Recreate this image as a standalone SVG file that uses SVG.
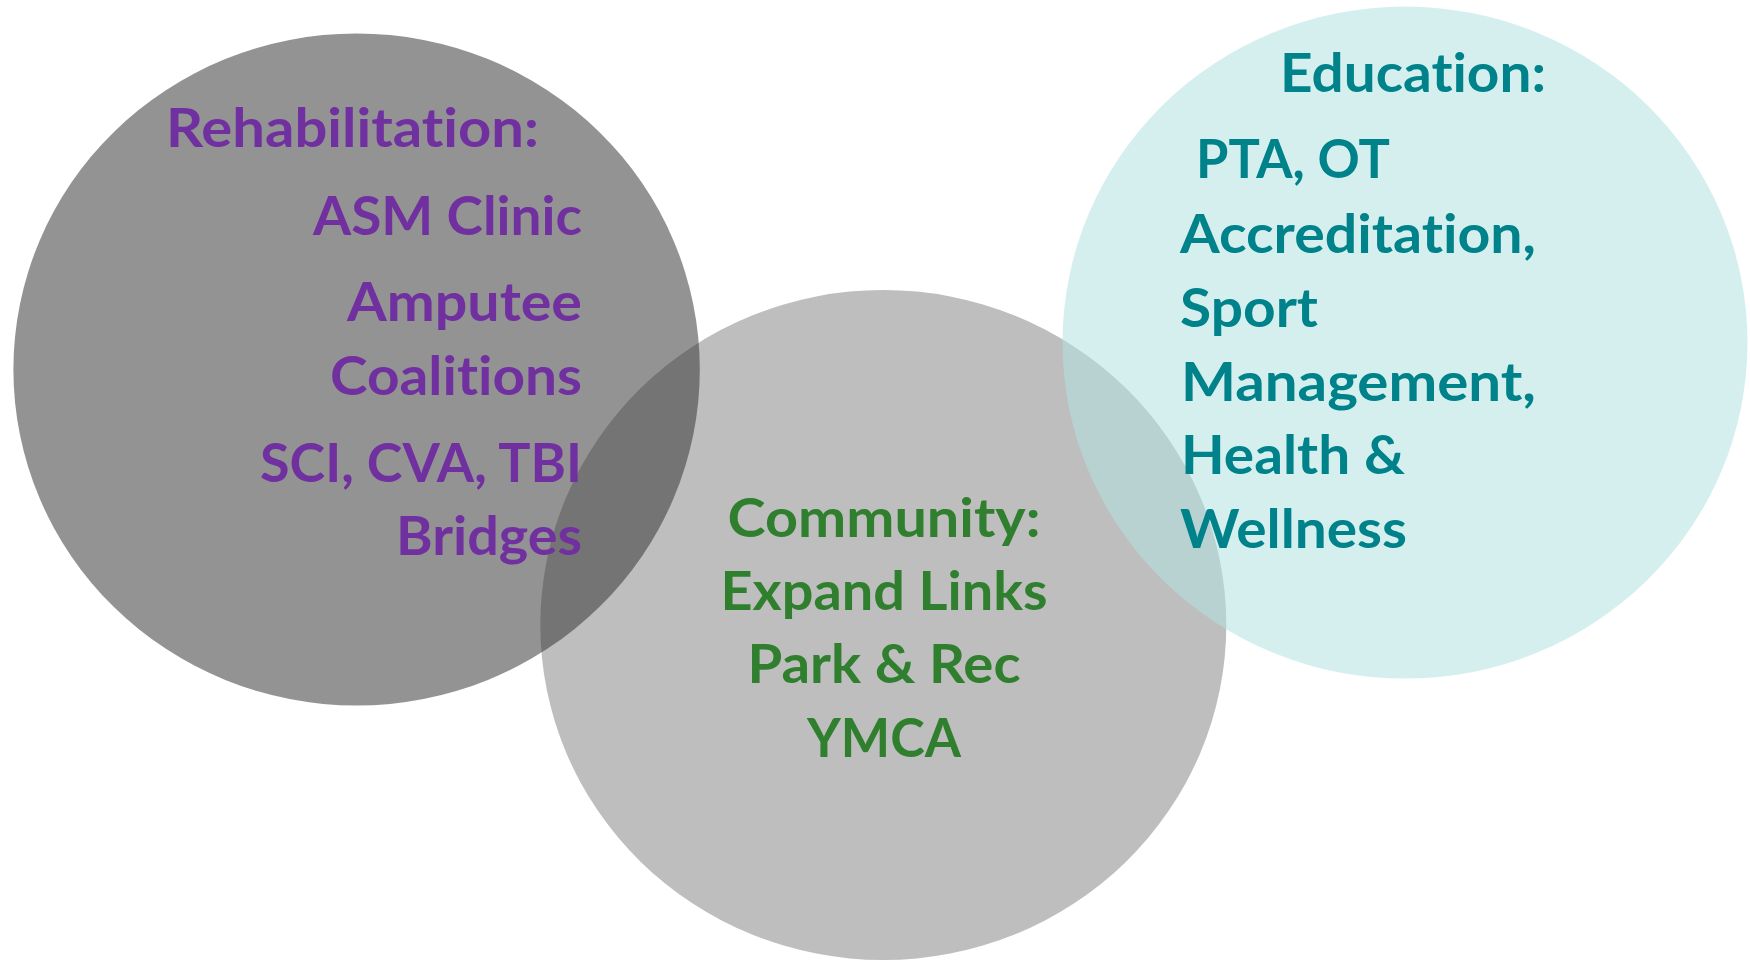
<svg xmlns="http://www.w3.org/2000/svg" width="1750" height="960" viewBox="0 0 1750 960">
  <style>
    text { font-family: Lato, Carlito, "Open Sans", "Liberation Sans", sans-serif; font-weight: bold; font-size: 54px; font-variant-ligatures: none; font-feature-settings: "liga" 0, "clig" 0; }
    .rehab { fill: #7030A0; }
    .comm { fill: #2F7F2F; }
    .edu { fill: #00828A; }
  </style>
  <rect width="1750" height="960" fill="#ffffff"/>
  <g id="community">
    <ellipse cx="883.3" cy="625" rx="343" ry="335" fill="#bebebe"/>
  </g>
  <g id="rehabilitation">
    <ellipse cx="356.6" cy="369.5" rx="343.2" ry="336" fill="#303030" fill-opacity="0.52"/>
  </g>
  <g id="education">
    <ellipse cx="1405" cy="342.6" rx="342.5" ry="336" fill="#b2e1e1" fill-opacity="0.55"/>
  </g>
  <g id="rehabilitation-text" class="rehab">
    <text x="166" y="147" textLength="373" lengthAdjust="spacingAndGlyphs">Rehabilitation:</text>
    <text x="582" y="235" text-anchor="end" textLength="269" lengthAdjust="spacingAndGlyphs">ASM Clinic</text>
    <text x="582" y="321" text-anchor="end" textLength="235" lengthAdjust="spacingAndGlyphs">Amputee</text>
    <text x="582" y="395" text-anchor="end" textLength="252" lengthAdjust="spacingAndGlyphs">Coalitions</text>
    <text x="582" y="482" text-anchor="end" textLength="322" lengthAdjust="spacingAndGlyphs">SCI, CVA, TBI</text>
    <text x="582" y="555" text-anchor="end" textLength="186" lengthAdjust="spacingAndGlyphs">Bridges</text>
  </g>
  <g id="community-text" class="comm">
    <text x="884" y="537" text-anchor="middle" textLength="313" lengthAdjust="spacingAndGlyphs">Community:</text>
    <text x="884" y="610" text-anchor="middle" textLength="327" lengthAdjust="spacingAndGlyphs">Expand Links</text>
    <text x="884" y="683" text-anchor="middle" textLength="273" lengthAdjust="spacingAndGlyphs">Park &amp; Rec</text>
    <text x="884" y="757" text-anchor="middle" textLength="154" lengthAdjust="spacingAndGlyphs">YMCA</text>
  </g>
  <g id="education-text" class="edu">
    <text x="1280" y="92" textLength="266" lengthAdjust="spacingAndGlyphs">Education:</text>
    <text x="1196" y="178" textLength="194" lengthAdjust="spacingAndGlyphs">PTA, OT</text>
    <text x="1180" y="253" textLength="356" lengthAdjust="spacingAndGlyphs">Accreditation,</text>
    <text x="1180" y="327" textLength="138" lengthAdjust="spacingAndGlyphs">Sport</text>
    <text x="1181" y="401" textLength="355" lengthAdjust="spacingAndGlyphs">Management,</text>
    <text x="1181" y="474" textLength="224" lengthAdjust="spacingAndGlyphs">Health &amp;</text>
    <text x="1180" y="548" textLength="227" lengthAdjust="spacingAndGlyphs">Wellness</text>
  </g>
</svg>
